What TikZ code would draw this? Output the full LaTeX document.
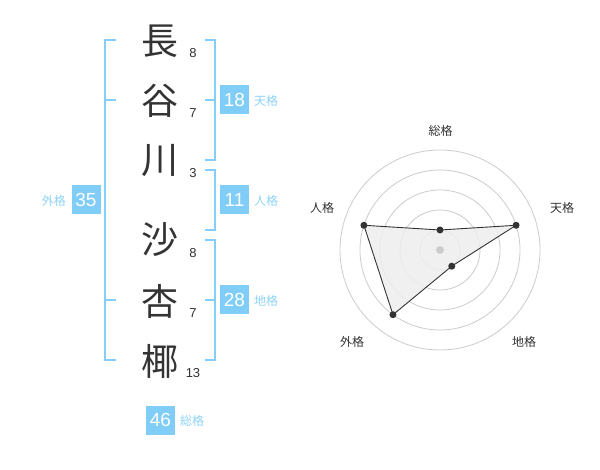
\documentclass[tikz,border=0pt]{standalone}
\usepackage{fontspec}
\setmainfont{Liberation Sans}
\newfontfamily\jp{Noto Sans CJK JP}
\definecolor{boxblue}{HTML}{80CDF8}
\definecolor{lineblue}{HTML}{84CFFA}
\definecolor{lblblue}{HTML}{8ED3F8}
\definecolor{ink}{HTML}{333333}
\definecolor{ring}{HTML}{CCCCCC}
\definecolor{area}{HTML}{EEEEEE}
\tikzset{
  kanji/.style={font=\jp\fontsize{37}{37}\selectfont, text=ink, inner sep=0pt},
  strokes/.style={font=\fontsize{13}{13}\selectfont, text=ink, inner sep=0pt},
  valbox/.style={fill=boxblue, text=white, minimum width=29pt, minimum height=29pt, inner sep=0pt, font=\fontsize{19}{19}\selectfont},
  lbl/.style={font=\jp\fontsize{12}{12}\selectfont, text=lblblue, inner sep=0pt},
  brk/.style={draw=lineblue, line width=2pt},
  axislbl/.style={font=\jp\fontsize{12}{12}\selectfont, text=ink, inner sep=0pt},
  ringc/.style={draw=ring, line width=0.8pt},
  dot/.style={circle, fill=ink, inner sep=0pt, minimum size=7pt},
}
\begin{document}
\begin{tikzpicture}[x=1pt, y=-1pt]
\useasboundingbox (0,0) rectangle (600,470);
\fill[white] (0,0) rectangle (600,470);
% kanji
\node[kanji] (k1) at (160,41) {長};
\node[kanji] (k2) at (160,101) {谷};
\node[kanji] (k3) at (160,161) {川};
\node[kanji] (k4) at (160,240) {沙};
\node[kanji] (k5) at (160,301) {杏};
\node[kanji] (k6) at (160,361) {椰};
\node[strokes] (s1) at (193,53) {8};
\node[strokes] (s2) at (193,113) {7};
\node[strokes] (s3) at (193,173) {3};
\node[strokes] (s4) at (193,253) {8};
\node[strokes] (s5) at (193,313) {7};
\node[strokes] (s6) at (193,373) {13};
% brackets
\draw[brk] (116,40) -- (105,40) -- (105,360) -- (116,360);
\draw[brk] (105,100) -- (116,100);
\draw[brk] (105,300) -- (116,300);
\draw[brk] (205,40) -- (215,40) -- (215,160) -- (205,160);
\draw[brk] (205,100) -- (215,100);
\draw[brk] (205,170) -- (215,170) -- (215,230) -- (205,230);
\draw[brk] (205,240) -- (215,240) -- (215,360) -- (205,360);
\draw[brk] (205,300) -- (215,300);
% value boxes
\node[valbox] (b18) at (234.5,100) {18};
\node[lbl, anchor=west] (l18) at (254,101) {天格};
\node[valbox] (b11) at (234.5,200) {11};
\node[lbl, anchor=west] (l11) at (254,201) {人格};
\node[valbox] (b28) at (234.5,300) {28};
\node[lbl, anchor=west] (l28) at (254,301) {地格};
\node[valbox] (b35) at (86,200) {35};
\node[lbl, anchor=east] (l35) at (66,201) {外格};
\node[valbox] (b46) at (160.5,420) {46};
\node[lbl, anchor=west] (l46) at (180,421) {総格};
% radar
\begin{scope}[shift={(440,250)}]
  \foreach \r in {20,40,60,80,100} \draw[ringc] (0,0) circle[radius=\r];
  \coordinate (p1) at (-90:20);
  \coordinate (p2) at (-18:80);
  \coordinate (p3) at (54:20);
  \coordinate (p4) at (126:80);
  \coordinate (p5) at (198:80);
  \fill[area, fill opacity=0.85] (p1) -- (p2) -- (p3) -- (p4) -- (p5) -- cycle;
  \draw[ink, line width=0.9pt] (p1) -- (p2) -- (p3) -- (p4) -- (p5) -- cycle;
  \node[circle, fill=ring, inner sep=0pt, minimum size=8pt] (c0) at (0,0) {};
  \foreach \i in {1,...,5} \node[dot] (d\i) at (p\i) {};
\end{scope}
\node[axislbl] (a1) at (440.5,130.5) {総格};
\node[axislbl] (a2) at (562,208) {天格};
\node[axislbl] (a3) at (524,342) {地格};
\node[axislbl] (a4) at (352,342) {外格};
\node[axislbl] (a5) at (322,208) {人格};
\end{tikzpicture}
\end{document}
